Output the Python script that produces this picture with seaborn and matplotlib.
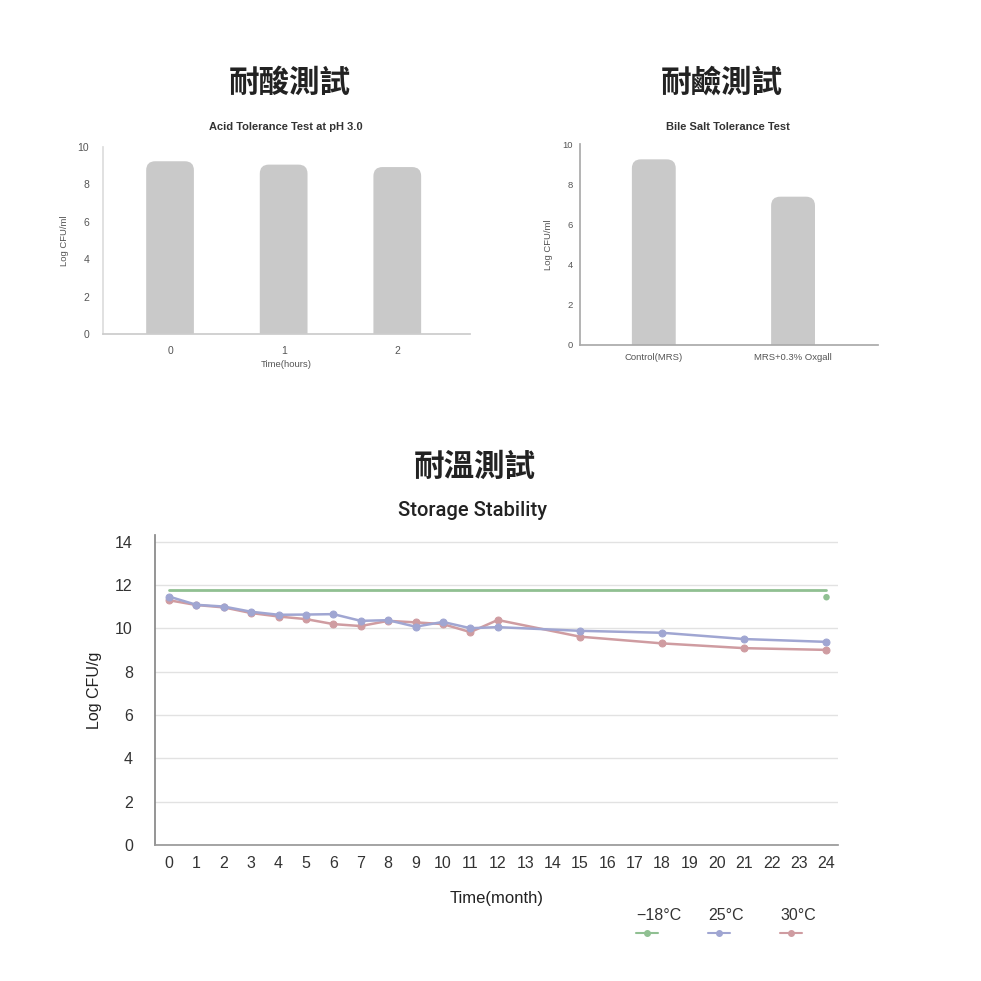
import seaborn as sns
import matplotlib.pyplot as plt
from matplotlib.patches import FancyBboxPatch
from matplotlib.lines import Line2D

# acid tolerance (pH 3.0)
acid_hours = ["0", "1", "2"]
acid_log = [9.24, 9.06, 8.93]

# bile salt tolerance
bile_groups = ["Control(MRS)", "MRS+0.3% Oxgall"]
bile_log = [9.25, 7.39]

# storage stability
months = [0, 1, 2, 3, 4, 5, 6, 7, 8, 9, 10, 11, 12, 15, 18, 21, 24]
log_25c = [11.46, 11.08, 11.00, 10.76, 10.62, 10.63, 10.65, 10.34, 10.37, 10.07,
           10.29, 10.00, 10.05, 9.88, 9.79, 9.50, 9.37]
log_30c = [11.29, 11.07, 10.96, 10.70, 10.54, 10.42, 10.19, 10.10, 10.34, 10.27,
           10.19, 9.82, 10.38, 9.61, 9.30, 9.08, 9.00]
frozen_months = [0, 24]
log_frozen = [11.76, 11.76]
frozen_end_month = [24]
frozen_end_log = [11.43]
month_ticks = list(range(0, 25))

sns.set_theme(style="white")
plt.rcParams["font.family"] = ["Liberation Sans", "Noto Sans CJK TC", "DejaVu Sans"]

GREEN = "#90c092"
BLUE = "#a0a6d2"
RED = "#cf9ca1"
BAR = "#c9c9c9"
CJK = ["Noto Sans CJK TC", "DejaVu Sans"]

fig = plt.figure(figsize=(9.81, 9.81), dpi=100)
W = H = 981.0


def fx(px):
    return px / W


def fy(py):
    return 1 - py / H


def round_bars(ax, radius_px=9):
    # swap seaborn's rectangles for rounded-top ones of the same geometry
    (x0, y0), (x1, y1) = ax.transData.transform([(0, 0), (1, 1)])
    px_x, px_y = x1 - x0, y1 - y0
    for p in list(ax.patches):
        x, w, h = p.get_x(), p.get_width(), p.get_height()
        r = radius_px / px_x
        aspect = px_x / px_y
        extra = r * aspect
        fb = FancyBboxPatch((x, -extra), w, h + extra,
                            boxstyle=f"round,pad=0,rounding_size={r}",
                            mutation_aspect=aspect, fc=BAR, ec="none")
        p.remove()
        ax.add_patch(fb)


# ---------- acid tolerance ----------
ax1 = fig.add_axes([fx(103), fy(334.5), fx(470 - 103), (334.5 - 147) / H])
sns.barplot(x=acid_hours, y=acid_log, color=BAR, width=0.42, saturation=1, ax=ax1)
ax1.set_xlim(-0.59, 2.64)
ax1.set_ylim(0, 10)
ax1.set_yticks(range(0, 11, 2))
round_bars(ax1)
for s in ["top", "right"]:
    ax1.spines[s].set_visible(False)
ax1.spines["left"].set_color("#dddddd")
ax1.spines["bottom"].set_color("#cccccc")
ax1.tick_params(axis="y", length=0, pad=10, labelsize=7.5, labelcolor="#555555")
ax1.tick_params(axis="x", length=0, pad=8, labelsize=7.5, labelcolor="#555555")
ax1.set_xlabel("Time(hours)", fontsize=6.8, color="#555555", labelpad=3)
ax1.set_ylabel("Log CFU/ml", fontsize=6.8, color="#555555", labelpad=6)

# ---------- bile salt tolerance ----------
ax2 = fig.add_axes([fx(580), fy(345), fx(878 - 580), (345 - 144.3) / H])
sns.barplot(x=bile_groups, y=bile_log, color=BAR, width=0.315, saturation=1, ax=ax2)
ax2.set_xlim(-0.53, 1.61)
ax2.set_ylim(0, 10)
ax2.set_yticks(range(0, 11, 2))
round_bars(ax2)
for s in ["top", "right"]:
    ax2.spines[s].set_visible(False)
ax2.spines["left"].set_color("#aaaaaa")
ax2.spines["bottom"].set_color("#aaaaaa")
ax2.tick_params(axis="y", length=0, pad=5, labelsize=6.8, labelcolor="#555555")
ax2.tick_params(axis="x", length=0, pad=6, labelsize=6.8, labelcolor="#555555")
ax2.set_ylabel("Log CFU/ml", fontsize=6.8, color="#555555", labelpad=7)

# ---------- storage stability ----------
ax3 = fig.add_axes([fx(155), fy(845), fx(838 - 155), (845 - 535) / H])
sns.lineplot(x=frozen_months, y=log_frozen, color=GREEN, lw=2, ax=ax3)
sns.scatterplot(x=frozen_end_month, y=frozen_end_log, color=GREEN, s=22,
                edgecolor="none", ax=ax3)
sns.lineplot(x=months, y=log_30c, color=RED, lw=1.8, marker="o", markersize=5,
             markeredgecolor=RED, ax=ax3)
sns.lineplot(x=months, y=log_25c, color=BLUE, lw=1.8, marker="o", markersize=5,
             markeredgecolor=BLUE, ax=ax3)
ax3.set_xlim(-0.51, 24.42)
ax3.set_ylim(0, 14.3)
ax3.set_yticks(range(0, 15, 2))
ax3.set_xticks(month_ticks)
ax3.grid(axis="y", color="#e2e2e2", lw=1)
ax3.set_axisbelow(True)
for s in ["top", "right"]:
    ax3.spines[s].set_visible(False)
ax3.spines["left"].set_color("#888888")
ax3.spines["bottom"].set_color("#999999")
ax3.tick_params(axis="y", length=0, pad=16, labelsize=11.5, labelcolor="#333333")
ax3.tick_params(axis="x", length=0, pad=8, labelsize=11.5, labelcolor="#333333")
ax3.set_xlabel("Time(month)", fontsize=12, color="#222222", labelpad=14)
ax3.set_ylabel("Log CFU/g", fontsize=11.5, color="#222222", labelpad=9)

# ---------- titles ----------
fig.text(fx(290), fy(83), "耐酸測試", family=CJK, weight="bold", fontsize=22,
         ha="center", va="center", color="#222222")
fig.text(fx(722), fy(83), "耐鹼測試", family=CJK, weight="bold", fontsize=22,
         ha="center", va="center", color="#222222")
fig.text(fx(475), fy(467), "耐溫測試", family=CJK, weight="bold", fontsize=22,
         ha="center", va="center", color="#222222")
fig.text(fx(286), fy(127), "Acid Tolerance Test at pH 3.0", weight="bold",
         fontsize=8, ha="center", va="center", color="#333333")
fig.text(fx(728), fy(127), "Bile Salt Tolerance Test", weight="bold",
         fontsize=8, ha="center", va="center", color="#333333")
fig.text(fx(473), fy(510), "Storage Stability", family=["Roboto", "DejaVu Sans"],
         weight="medium", fontsize=14.5, ha="center", va="center", color="#222222")

# ---------- legend: label above a short line-marker handle ----------
legend_items = [("\u221218\u00b0C", GREEN, 636), ("25\u00b0C", BLUE, 708), ("30\u00b0C", RED, 780)]
for label, col, left in legend_items:
    fig.text(fx(left), fy(916), label, fontsize=11.5, ha="left", va="center",
             color="#333333")
    fig.add_artist(Line2D([fx(left), fx(left + 22)], [fy(933), fy(933)],
                          color=col, lw=1.5, transform=fig.transFigure))
    fig.add_artist(Line2D([fx(left + 11)], [fy(933)], marker="o", markersize=4,
                          color=col, transform=fig.transFigure))

fig.savefig("out.png", dpi=100, facecolor="white")
